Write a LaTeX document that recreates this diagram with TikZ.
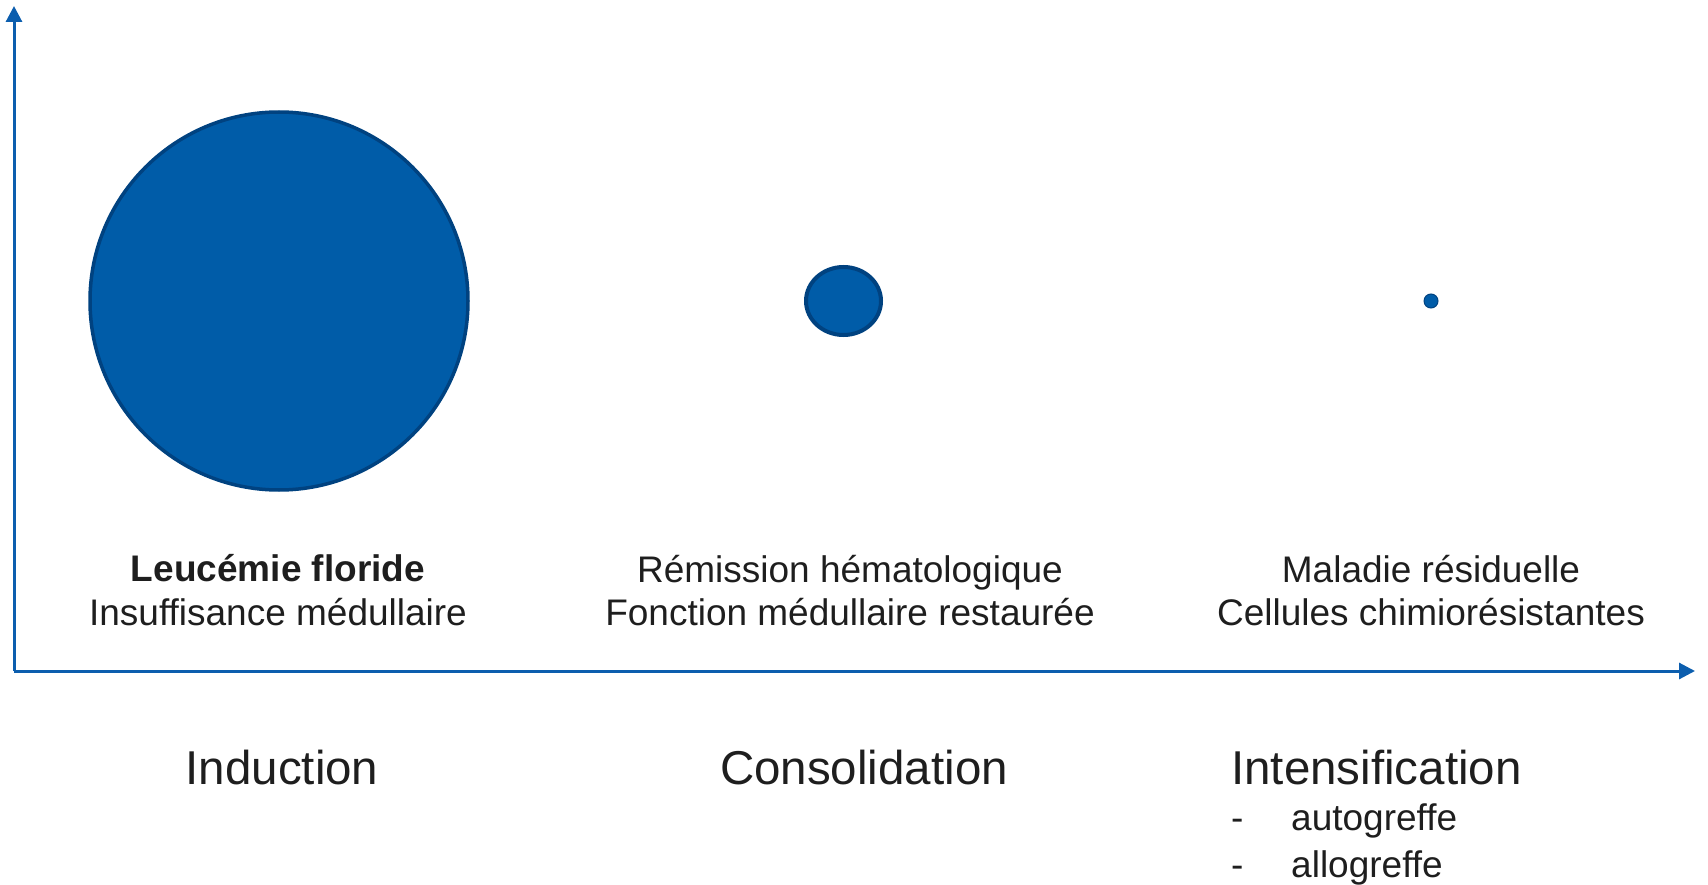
\documentclass[tikz,border=0pt]{standalone}
\usepackage{fontspec}
\setmainfont{Liberation Sans}
\usetikzlibrary{arrows.meta,shapes.geometric}
\definecolor{axisblue}{RGB}{12,94,174}
\definecolor{fillblue}{RGB}{0,92,168}
\definecolor{edgeblue}{RGB}{0,66,128}
\definecolor{txt}{RGB}{30,30,30}
\tikzset{
  axis/.style={draw=axisblue, line width=3pt, -{Triangle[width=16pt,length=16pt]}},
  blob/.style={fill=fillblue, draw=edgeblue, inner sep=0pt},
  lbl/.style={text=txt, anchor=base, inner sep=0pt, font=\fontsize{37}{44}\selectfont},
  phase/.style={text=txt, anchor=base, inner sep=0pt, font=\fontsize{47.5}{57}\selectfont},
}
\begin{document}
\begin{tikzpicture}[x=1pt,y=-1pt]
\useasboundingbox (0,0) rectangle (1708,885);
\coordinate (origin) at (14,671);
\coordinate (ytop) at (14,6);
\coordinate (xend) at (1695,671);
\draw[axis] (origin) -- (ytop);
\draw[axis] (origin) -- (xend);
% circles
\node[blob, circle, line width=3.5pt, minimum size=378pt] (big) at (279,301) {};
\node[blob, ellipse, line width=4pt, minimum width=75pt, minimum height=68pt] (mid) at (843.5,301) {};
\node[blob, circle, line width=1pt, minimum size=14pt] (small) at (1431,301) {};
% labels
\node[lbl, font=\fontsize{37}{44}\selectfont\bfseries] (l1a) at (278,581) {Leucémie floride};
\node[lbl] (l1b) at (278,625) {Insuffisance médullaire};
\node[lbl] (l2a) at (850,582) {Rémission hématologique};
\node[lbl] (l2b) at (850,625) {Fonction médullaire restaurée};
\node[lbl] (l3a) at (1431,582) {Maladie résiduelle};
\node[lbl] (l3b) at (1431,625) {Cellules chimiorésistantes};
% phases
\node[phase] (p1) at (282,784) {Induction};
\node[phase] (p2) at (864,784) {Consolidation};
\node[phase, anchor=base west] (p3) at (1231,784) {Intensification};
\node[lbl, anchor=base west] (d1) at (1231,830) {-};
\node[lbl, anchor=base west] (i1) at (1291,830) {autogreffe};
\node[lbl, anchor=base west] (d2) at (1231,877) {-};
\node[lbl, anchor=base west] (i2) at (1291,877) {allogreffe};
\end{tikzpicture}
\end{document}
